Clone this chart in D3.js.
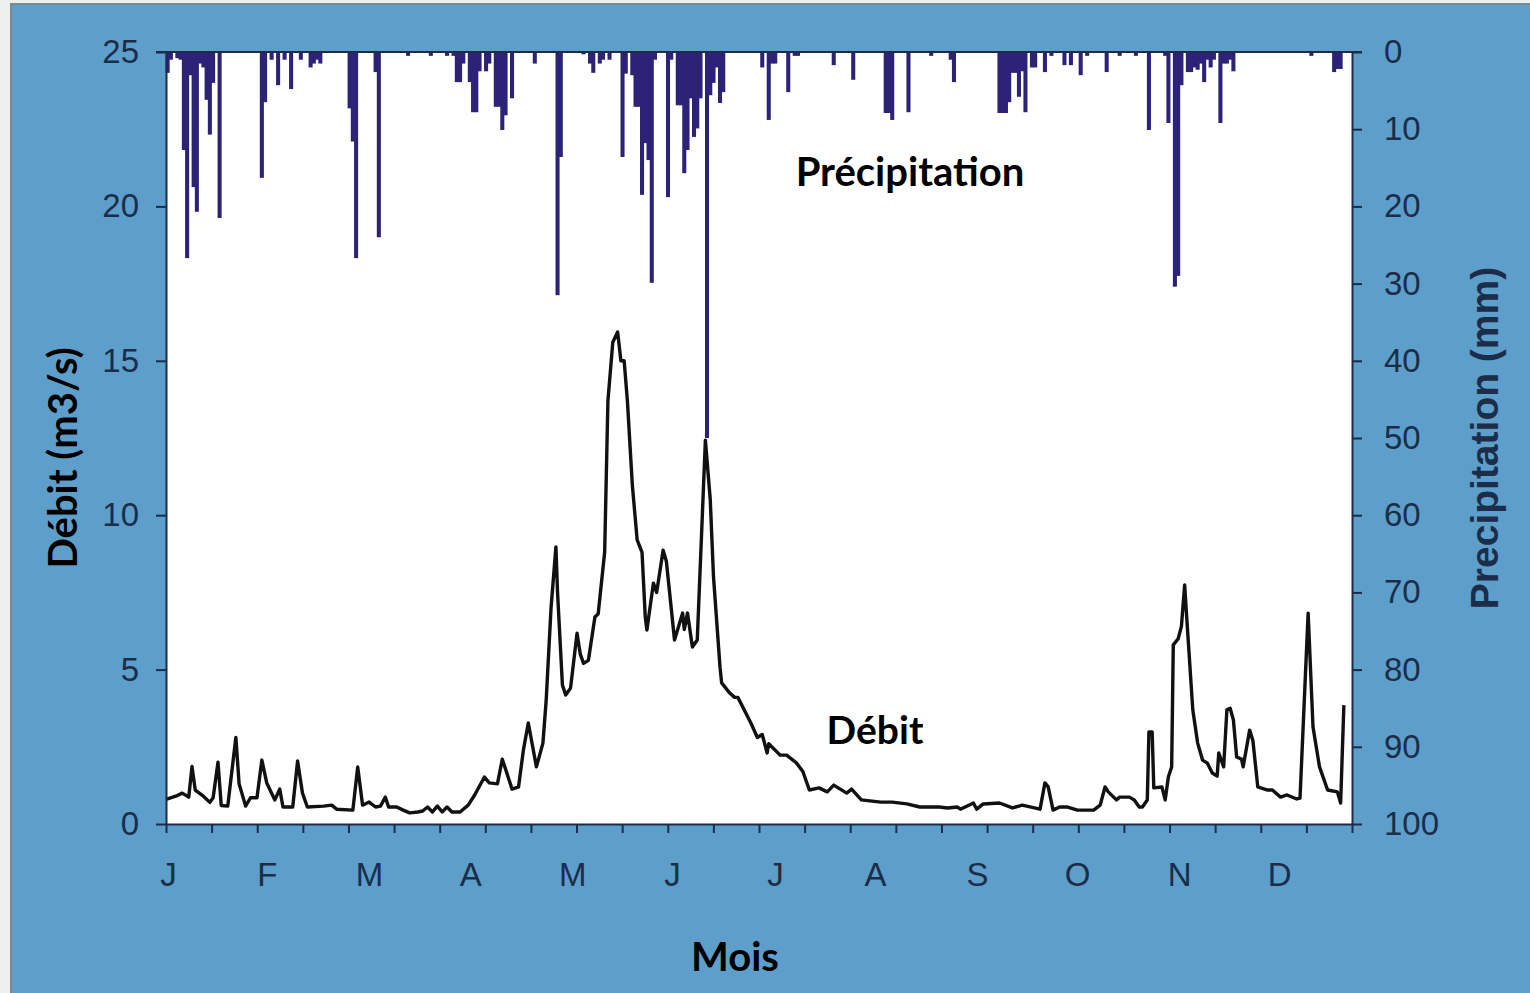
<!DOCTYPE html>
<html>
<head>
<meta charset="utf-8">
<script src="https://cdn.jsdelivr.net/npm/d3@7/dist/d3.min.js"></script>
<style>
  html, body { margin: 0; padding: 0; background: #eef0ee; }
  svg { display: block; }
</style>
</head>
<body>
<svg id="chart" width="1530" height="993"></svg>
<script>
// ---------- DATA ----------
const monthLabels = ["J","F","M","A","M","J","J","A","S","O","N","D"];
const monthLabelDays = [0.6, 31, 62.5, 93.6, 125, 155.7, 187.4, 218.2, 249.6, 280.4, 311.8, 342.6];

const flowTicks = [0, 5, 10, 15, 20, 25];
const precipTicks = [0, 10, 20, 30, 40, 50, 60, 70, 80, 90, 100];

// Daily precipitation (mm) – day of year, amount
const precipDay = [0,1,3,4,5,6,7,8,9,10,11,12,13,14,16,29,30,32,34,36,38,41,44,45,46,47,
  56,57,58,64,65,74,81,86,88,89,90,91,93,94,95,96,98,99,101,102,103,104,106,113,
  120,121,128,130,131,133,134,136,140,141,143,144,145,146,147,148,149,150,154,155,157,158,159,160,161,162,163,164,166,167,168,169,170,171,
  183,185,186,187,191,193,194,205,211,221,222,223,228,235,241,242,
  256,257,258,259,260,261,262,263,264,266,267,270,272,276,278,281,283,289,293,298,
  302,307,308,310,311,312,314,315,316,317,318,319,320,321,322,324,325,326,327,328,352,359,360,361];
const precipMm = [2.7,1,0.8,1,12.7,26.7,3,17.5,20.7,1.5,2,6.2,10.7,4,21.5,16.3,6.5,1,4.3,1,4.8,1,2,1.5,1,1.5,
  7.3,11.6,26.7,2.6,24,0.5,0.5,0.5,0.5,3.9,3.9,1.5,3.9,7.8,7.8,2.5,2.5,1.5,7.1,7.1,10.1,8.2,6,1.5,
  31.5,13.6,0.3,1.5,2.7,1.5,1,1,13.6,2.8,3,7.1,7.1,18.5,11.8,14,29.9,1,18.8,1,6.9,6.9,15.7,12.7,6,11,9.9,6,50,5.6,4,2,6.6,5.2,
  2,8.8,1.5,1.5,5.2,0.5,0.5,1.7,3.6,7.9,7.9,8.8,7.8,0.5,1,3.9,
  7.9,7.9,7.9,6.5,2.7,2.7,5.8,2.5,7.8,2,2,2.6,0.5,1.7,1.7,3,0.5,2.6,0.5,0.5,
  10.1,0.5,9.2,30.4,29,4.3,2.6,2.6,2,2.3,1.5,3.9,1,2,1,9.2,1.5,1.5,1,2.5,0.5,2.6,2.2,2.2];

// Daily discharge (m3/s) – day of year, value
const flowDay = [0,3,5,7,8,9,11.5,13.5,14.5,16,17,19,21.5,22.5,24.5,26,28,29.5,31,33.5,35,36,39,40.5,42,43.5,48.5,51,52.5,57.5,59,60.5,62.5,64.5,66,67.5,68.5,71,73,75,77.5,79,80.5,82,83.5,85,86.5,88,90.5,93,95,98,99.5,102,103.5,106.5,108.5,110,111.5,114,116,117,118.5,120,120.5,122,123,124.5,126.5,127.5,128.5,130,132,133,135,136,137.5,139,140,141,142,143.5,145,146.5,147.5,148,150,151,153,154,156.5,159,159.5,160.5,162,163.5,166,167.5,168.5,170.5,171,173.5,175,176,180,182,183.5,185,185.5,189,191,194,196,198,201,203.5,205.5,209.5,211,214,220,223.5,228,232,238,240.5,243.5,244.5,248.5,249.5,251.5,256.5,260.5,263.5,269,270.5,271.5,273,275,277.5,280.5,285.5,287.5,289,290,292.5,293.5,296.5,298,299.5,300.5,302,302.5,303.5,304,306.5,307.5,308.5,309.5,310,311.5,312.5,313.5,314,316,317.5,319,320.5,322,323.5,324,325.5,326.5,327.5,328.5,329.5,331,331.5,333.5,334.5,336,339,340.5,343,345,348,349,351.5,353,355,357.5,360.5,361.5,362.5];
const flowValue = [0.8,0.9,1.0,0.87,1.86,1.1,0.9,0.7,0.85,2.0,0.6,0.58,2.8,1.3,0.58,0.85,0.85,2.07,1.33,0.78,1.13,0.55,0.55,2.04,1.0,0.55,0.58,0.61,0.48,0.45,1.85,0.61,0.71,0.55,0.58,0.87,0.55,0.55,0.45,0.36,0.39,0.42,0.55,0.39,0.58,0.39,0.55,0.39,0.39,0.61,0.94,1.52,1.33,1.3,2.1,1.13,1.2,2.4,3.27,1.85,2.62,4.0,7.0,8.97,7.5,4.5,4.18,4.4,6.18,5.5,5.2,5.3,6.7,6.8,8.8,13.7,15.6,15.93,15.0,15.0,13.7,11.0,9.2,8.8,6.7,6.28,7.8,7.5,8.87,8.5,5.96,6.83,6.3,6.83,5.73,5.96,12.43,10.5,8.0,5.08,4.57,4.24,4.1,4.1,3.27,2.8,2.9,2.3,2.6,2.23,2.23,1.98,1.7,1.1,1.17,1.04,1.26,1.0,1.13,0.78,0.71,0.71,0.65,0.55,0.55,0.52,0.55,0.48,0.68,0.48,0.65,0.68,0.52,0.61,0.48,1.33,1.2,0.45,0.55,0.55,0.45,0.45,0.61,1.2,1.04,0.78,0.87,0.87,0.78,0.55,0.55,0.78,2.98,2.98,1.17,1.2,0.78,1.53,1.85,5.8,6.0,6.4,7.74,6.9,3.7,2.62,2.07,1.97,1.65,1.55,2.3,1.85,3.7,3.75,3.37,2.17,2.1,1.85,3.04,2.7,1.2,1.1,1.1,0.87,0.94,0.81,0.84,6.83,3.14,1.85,1.1,1.04,0.68,3.85];

// ---------- CHART ----------
const svg = d3.select("#chart");
const navy = "#1b2d48";
const L = 166, R = 1352, T = 52, B = 824;

// background frame
svg.append("rect").attr("x", 11).attr("y", 4).attr("width", 1530).attr("height", 1000)
  .attr("fill", "#5d9fca").attr("stroke", "#7b8a8e").attr("stroke-width", 2);

// plot area
svg.append("rect").attr("x", L).attr("y", T).attr("width", R - L).attr("height", B - T).attr("fill", "#ffffff");

const x = d3.scaleLinear().domain([0, 365]).range([L, R]);
const yQ = d3.scaleLinear().domain([0, 25]).range([B, T]);
const yP = d3.scaleLinear().domain([0, 100]).range([T, B]);

// precipitation bars
const precip = precipDay.map((d, i) => ({ day: d, mm: precipMm[i] }));
svg.append("g").selectAll("rect").data(precip).join("rect")
  .attr("x", d => x(d.day) - 0.4)
  .attr("width", d => x(d.day + 1) - x(d.day) + 0.8)
  .attr("y", yP(0))
  .attr("height", d => yP(d.mm) - yP(0))
  .attr("fill", "#2c2378");

// discharge line
const flow = flowDay.map((d, i) => ({ day: d, q: flowValue[i] }));
svg.append("path").datum(flow)
  .attr("fill", "none").attr("stroke", "#111").attr("stroke-width", 3.4)
  .attr("stroke-linejoin", "round")
  .attr("d", d3.line().x(d => x(d.day)).y(d => yQ(d.q)));

// axes
function styleAxis(g) {
  g.selectAll(".domain").attr("stroke", navy).attr("stroke-width", 2);
  g.selectAll(".tick line").attr("stroke", navy).attr("stroke-width", 2);
  g.selectAll(".tick text").attr("fill", navy).style("font-family", "'Liberation Sans', Arial, sans-serif").style("font-size", "33px");
}

const gL = svg.append("g").attr("transform", `translate(${L},0)`)
  .call(d3.axisLeft(yQ).tickValues(flowTicks).tickSize(10).tickSizeOuter(0).tickPadding(17));
styleAxis(gL);

const gR = svg.append("g").attr("transform", `translate(${R},0)`)
  .call(d3.axisRight(yP).tickValues(precipTicks).tickSize(10).tickSizeOuter(0).tickPadding(22));
styleAxis(gR);

// top line
svg.append("line").attr("x1", L - 10).attr("x2", R + 10).attr("y1", T).attr("y2", T)
  .attr("stroke", navy).attr("stroke-width", 2);

const gB = svg.append("g").attr("transform", `translate(0,${B})`)
  .call(d3.axisBottom(x).tickValues(d3.range(27).map(i => i * 365 / 26)).tickSize(9).tickSizeOuter(0).tickFormat(""));
styleAxis(gB);

const gM = svg.append("g").attr("transform", `translate(0,${B})`)
  .call(d3.axisBottom(x).tickValues(monthLabelDays).tickSize(0).tickPadding(39).tickFormat((d, i) => monthLabels[i]));
gM.select(".domain").remove();
styleAxis(gM);

// titles
const titleFont = "Lato, 'Open Sans', sans-serif";
svg.append("text").attr("transform", "translate(77,458) rotate(-90)")
  .attr("text-anchor", "middle").style("font-family", titleFont).style("font-weight", "bold")
  .style("font-size", "40px").attr("fill", "#000").text("Débit (m3/s)");

svg.append("text").attr("transform", "translate(1498,438) rotate(-90)")
  .attr("text-anchor", "middle").style("font-family", "'Liberation Sans', Arial, sans-serif").style("font-weight", "bold")
  .style("font-size", "39px").attr("fill", navy).text("Precipitation (mm)");

svg.append("text").attr("x", 735).attr("y", 971).attr("text-anchor", "middle")
  .style("font-family", titleFont).style("font-weight", "bold").style("font-size", "40px")
  .attr("fill", "#000").text("Mois");

svg.append("text").attr("x", 910).attr("y", 186).attr("text-anchor", "middle")
  .style("font-family", titleFont).style("font-weight", "bold").style("font-size", "40px")
  .attr("fill", "#000").text("Précipitation");

svg.append("text").attr("x", 875).attr("y", 744).attr("text-anchor", "middle")
  .style("font-family", titleFont).style("font-weight", "bold").style("font-size", "39px")
  .attr("fill", "#000").text("Débit");
</script>
</body>
</html>
